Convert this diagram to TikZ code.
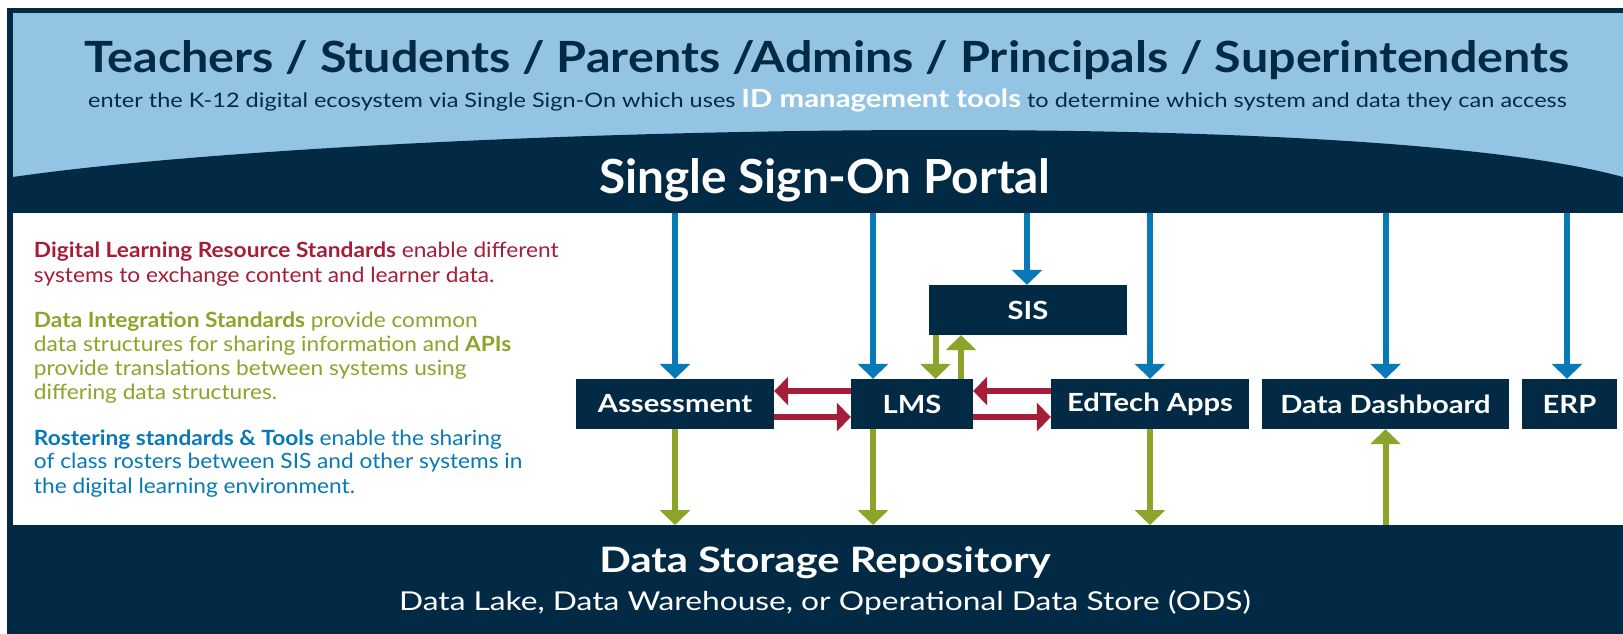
\documentclass[tikz,border=0pt]{standalone}
\usepackage{fontspec}
\setmainfont{Lato}
\newfontfamily\ftitle[FakeStretch=1.127]{Lato}
\newfontfamily\fsub[FakeStretch=1.175]{Lato}
\newfontfamily\fportal[FakeStretch=1.015]{Lato}
\newfontfamily\fdsr[FakeStretch=1.19]{Lato}
\newfontfamily\fdsrsub[FakeStretch=1.22]{Lato}
\newfontfamily\fleft[FakeStretch=1.08]{Lato}
\newfontfamily\fsys[FakeStretch=1.167]{Lato}
\usetikzlibrary{arrows.meta}
\definecolor{navy}{HTML}{022A45}
\definecolor{skyblue}{HTML}{93C4E3}
\definecolor{arrblue}{HTML}{0679B6}
\definecolor{arrgreen}{HTML}{8BA42A}
\definecolor{arrred}{HTML}{A51D39}
\newcommand\fsz[1]{\fontsize{#1}{#1}\selectfont}
\begin{document}
\begin{tikzpicture}[x=1pt,y=-1pt,
  txt/.style={inner sep=0pt, outer sep=0pt},
  sysbox/.style={fill=navy, text=white, inner sep=0pt, minimum height=50pt, font=\fsys\fsz{25}\bfseries},
  bluearr/.style={draw=arrblue, line width=6pt, -{Triangle[width=30pt,length=15pt]}},
  greenarr/.style={draw=arrgreen, line width=6pt, -{Triangle[width=30pt,length=15pt]}},
  redarr/.style={draw=arrred, line width=6pt, -{Triangle[width=28pt,length=14pt]}},
  lefttxt/.style={txt, anchor=base west, font=\fleft\fsz{21}}
]
\useasboundingbox (0,0) rectangle (1623,634);
\fill[white] (0,0) rectangle (1623,634);
\fill[navy] (7,8) rectangle (1623,634);
\fill[skyblue] (13,13) rectangle (1623,213);
\fill[navy] (13,177) .. controls (350,128) and (1350,102) .. (1623,177) -- (1623,213) -- (13,213) -- cycle;
\fill[white] (13,213) rectangle (1623,525);

% header texts
\node[txt, anchor=base, text=navy, font=\ftitle\fsz{43}\bfseries] (title) at (827,72.7)
  {Teachers / Students / Parents /Admins / Principals / Superintendents};
\node[txt, anchor=base, text=navy, font=\fsub\fsz{20}] (subtitle) at (827.5,107)
  {enter the K-12 digital ecosystem via Single Sign-On which uses {\fsz{25}\bfseries\color{white}ID management tools} to determine which system and data they can access};
\node[txt, anchor=base, text=white, font=\fportal\fsz{47}\bfseries] (portal) at (825,193) {Single Sign-On Portal};

% bottom texts
\node[txt, anchor=base, text=white, font=\fdsr\fsz{35}\bfseries] (dsr) at (825,572) {Data Storage Repository};
\node[txt, anchor=base, text=white, font=\fdsrsub\fsz{26}] (dsrsub) at (825,610) {Data Lake, Data Warehouse, or Operational Data Store (ODS)};

% left explanation
\node[lefttxt, text=arrred] (l1) at (34,257) {\bfseries Digital Learning Resource Standards\mdseries{} enable different};
\node[lefttxt, text=arrred] (l2) at (34,282) {systems to exchange content and learner data.};
\node[lefttxt, text=arrgreen] (l3) at (34,327) {\bfseries Data Integration Standards\mdseries{} provide common};
\node[lefttxt, text=arrgreen] (l4) at (34,351) {data structures for sharing information and \textbf{APIs}};
\node[lefttxt, text=arrgreen] (l5) at (34,375) {provide translations between systems using};
\node[lefttxt, text=arrgreen] (l6) at (34,399) {differing data structures.};
\node[lefttxt, text=arrblue] (l7) at (34,445) {\bfseries Rostering standards \& Tools\mdseries{} enable the sharing};
\node[lefttxt, text=arrblue] (l8) at (34,468) {of class rosters between SIS and other systems in};
\node[lefttxt, text=arrblue] (l9) at (34,493) {the digital learning environment.};

% system boxes
\node[sysbox, minimum width=198pt] (assess) at (675,404) {Assessment};
\node[sysbox, minimum width=122pt] (lms) at (912,404) {LMS};
\node[sysbox, minimum width=198pt] (sis) at (1028,310) {SIS};
\node[sysbox, minimum width=198pt] (edtech) at (1150,404) {EdTech Apps};
\node[sysbox, minimum width=247pt] (dash) at (1385.5,404) {Data Dashboard};
\node[sysbox, minimum width=95pt] (erp) at (1569.5,404) {ERP};

% reference coordinates
\coordinate (ssoB) at (0,213);
\coordinate (dsrT) at (0,525);
\coordinate (lmsx) at (873,0);
\coordinate (sisx) at (1027,0);
\coordinate (erpx) at (1567,0);
\coordinate (gdown) at (935.5,0);
\coordinate (gup) at (961,0);

% blue arrows from portal
\draw[bluearr] (assess.north |- ssoB) -- (assess.north);
\draw[bluearr] (lmsx |- ssoB) -- (lmsx |- lms.north);
\draw[bluearr] (sisx |- ssoB) -- (sisx |- sis.north);
\draw[bluearr] (edtech.north |- ssoB) -- (edtech.north);
\draw[bluearr] (dash.north |- ssoB) -- (dash.north);
\draw[bluearr] (erpx |- ssoB) -- (erpx |- erp.north);

% green arrows to/from repository
\draw[greenarr] (assess.south) -- (assess.south |- dsrT);
\draw[greenarr] (lmsx |- lms.south) -- (lmsx |- dsrT);
\draw[greenarr] (edtech.south) -- (edtech.south |- dsrT);
\draw[greenarr] (dash.south |- dsrT) -- (dash.south);

% green SIS <-> LMS
\draw[greenarr] (gdown |- sis.south) -- (gdown |- lms.north);
\draw[greenarr] (gup |- lms.north) -- (gup |- sis.south);

% red arrows
\draw[redarr] ([yshift=13pt]lms.west) -- ([yshift=13pt]assess.east);
\draw[redarr] ([yshift=-13pt]assess.east) -- ([yshift=-13pt]lms.west);
\draw[redarr] ([yshift=13pt]edtech.west) -- ([yshift=13pt]lms.east);
\draw[redarr] ([yshift=-13pt]lms.east) -- ([yshift=-13pt]edtech.west);
\end{tikzpicture}
\end{document}
